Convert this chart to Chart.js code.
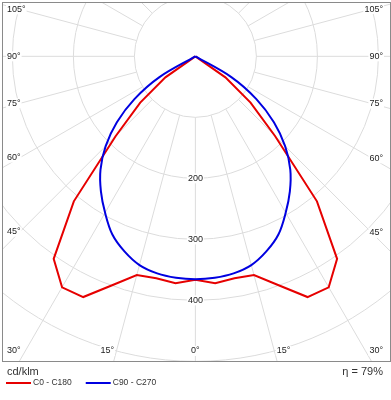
<!DOCTYPE html>
<html>
<head>
<meta charset="utf-8">
<script src="https://cdn.jsdelivr.net/npm/chart.js@4"></script>
<style>
  html, body { margin: 0; padding: 0; background: #fff; }
  #wrap { position: relative; width: 391px; height: 400px; }
</style>
</head>
<body>
<div id="wrap"><canvas id="polar" width="391" height="400"></canvas></div>
<script>
// Luminous intensity (cd/klm) per gamma angle
const gammaAngles = [0, 5, 10, 15, 20, 25, 30, 35, 40, 45, 50, 55, 60, 65];
const c0c180  = [366, 373, 369, 371, 399, 435, 437, 405, 310, 185, 118, 60, 0, 0];
const c90c270 = [365, 364, 361, 354, 340, 322, 296, 270, 242, 208, 168, 122, 68, 0];

const ringValues = [100, 200, 300, 400, 500, 600];
const ringLabels = [200, 300, 400];
const angleTicks = [0, 15, 30, 45, 60, 75, 90, 105];
const seriesNames = ['C0 - C180', 'C90 - C270'];
const unitLabel = 'cd/klm';
const efficiencyLabel = 'η = 79%';

// visible window in cd/klm, luminaire sits at 0,0
const xRange = [-317, 319];
const yRange = [-499, 89];

const FONT = '"Liberation Sans", Arial, sans-serif';

// one half plane per C-plane pair: left half is the opposite plane
function toPoints(values) {
  const pts = [];
  for (let i = gammaAngles.length - 1; i > 0; i--) {
    const a = gammaAngles[i] * Math.PI / 180;
    pts.push({ x: -values[i] * Math.sin(a), y: -values[i] * Math.cos(a) });
  }
  for (let i = 0; i < gammaAngles.length; i++) {
    const a = gammaAngles[i] * Math.PI / 180;
    pts.push({ x: values[i] * Math.sin(a), y: -values[i] * Math.cos(a) });
  }
  return pts;
}

const polarGrid = {
  id: 'polarGrid',
  beforeDatasetsDraw(chart) {
    const { ctx, chartArea: area, scales: { x, y } } = chart;
    const cx = x.getPixelForValue(0);
    const cy = y.getPixelForValue(0);
    const rad = v => x.getPixelForValue(v) - cx;

    ctx.save();
    ctx.beginPath();
    ctx.rect(area.left, area.top, area.right - area.left, area.bottom - area.top);
    ctx.clip();

    ctx.strokeStyle = '#dcdcdc';
    ctx.lineWidth = 1;
    ringValues.forEach(v => {
      ctx.beginPath();
      ctx.arc(cx, cy, rad(v), 0, Math.PI * 2);
      ctx.stroke();
    });

    // spokes every 15 degrees, starting at the first ring
    const r0 = rad(ringValues[0]);
    const r1 = rad(1200);
    for (let a = 0; a < 360; a += 15) {
      const t = a * Math.PI / 180;
      const dx = Math.sin(t), dy = Math.cos(t);
      ctx.beginPath();
      ctx.moveTo(cx + dx * r0, cy + dy * r0);
      ctx.lineTo(cx + dx * r1, cy + dy * r1);
      ctx.stroke();
    }

    ctx.font = '9px ' + FONT;
    ctx.textBaseline = 'middle';
    ctx.textAlign = 'left';

    // ring values on the 0 degree spoke
    ringLabels.forEach(v => {
      const text = String(v);
      const w = ctx.measureText(text).width;
      const ty = cy + rad(v);
      ctx.fillStyle = '#fff';
      ctx.fillRect(cx - w / 2 - 1, ty - 5, w + 2, 10);
      ctx.fillStyle = '#222';
      ctx.fillText(text, cx - w / 2, ty);
    });

    // angle labels along the frame
    angleTicks.forEach(a => {
      [-1, 1].forEach(s => {
        if (a === 0 && s === 1) return;
        const t = a * Math.PI / 180;
        const text = a + '°';
        const w = ctx.measureText(text).width;
        let tx, ty;
        if (a >= 45) {
          const edgeDx = s < 0 ? cx - (area.left + 18) : (area.right - 18) - cx;
          ty = cy + edgeDx * Math.cos(t) / Math.sin(t);
          tx = s < 0 ? area.left + 5 : area.right - 7 - w;
        } else {
          ty = area.bottom - 10;
          let mid = cx + s * ((area.bottom - cy) * Math.tan(t) + (a ? 6.5 : 0));
          mid = Math.min(Math.max(mid, area.left + 5 + w / 2), area.right - 7 - w / 2);
          tx = mid - w / 2;
        }
        ctx.fillStyle = '#fff';
        ctx.fillRect(tx - 1, ty - 5, w + 2, 10);
        ctx.fillStyle = '#222';
        ctx.fillText(text, tx, ty);
      });
    });
    ctx.restore();

    ctx.save();
    ctx.strokeStyle = '#8a8a8a';
    ctx.lineWidth = 1;
    ctx.strokeRect(area.left + 0.5, area.top + 0.5, area.right - area.left, area.bottom - area.top);
    ctx.restore();
  }
};

const footer = {
  id: 'footer',
  afterDraw(chart) {
    const { ctx, chartArea: area } = chart;
    ctx.save();
    ctx.fillStyle = '#333';
    ctx.textBaseline = 'middle';
    ctx.font = '11px ' + FONT;
    ctx.textAlign = 'left';
    ctx.fillText(unitLabel, area.left + 5, area.bottom + 11);
    ctx.textAlign = 'right';
    ctx.fillText(efficiencyLabel, area.right - 7, area.bottom + 11);

    ctx.font = '8.5px ' + FONT;
    ctx.textAlign = 'left';
    let lx = area.left + 4;
    const ly = area.bottom + 22;
    chart.data.datasets.forEach(ds => {
      ctx.strokeStyle = ds.borderColor;
      ctx.lineWidth = 2;
      ctx.beginPath();
      ctx.moveTo(lx, ly);
      ctx.lineTo(lx + 25, ly);
      ctx.stroke();
      ctx.fillStyle = '#333';
      ctx.fillText(ds.label, lx + 27, ly);
      lx += 27 + ctx.measureText(ds.label).width + 14;
    });
    ctx.restore();
  }
};

new Chart(document.getElementById('polar'), {
  type: 'scatter',
  data: {
    datasets: [
      {
        label: seriesNames[0],
        data: toPoints(c0c180),
        showLine: true,
        borderColor: '#e60000',
        backgroundColor: '#e60000',
        borderWidth: 2,
        pointRadius: 0,
        tension: 0,
        order: 1
      },
      {
        label: seriesNames[1],
        data: toPoints(c90c270),
        showLine: true,
        borderColor: '#0000e0',
        backgroundColor: '#0000e0',
        borderWidth: 2,
        pointRadius: 0,
        tension: 0.35,
        order: 0
      }
    ]
  },
  options: {
    responsive: false,
    animation: false,
    events: [],
    layout: { padding: { left: 2, top: 2, right: 1, bottom: 39 } },
    scales: {
      x: { type: 'linear', display: false, min: xRange[0], max: xRange[1] },
      y: { type: 'linear', display: false, min: yRange[0], max: yRange[1] }
    },
    plugins: {
      legend: { display: false },
      tooltip: { enabled: false }
    }
  },
  plugins: [polarGrid, footer]
});
</script>
</body>
</html>
